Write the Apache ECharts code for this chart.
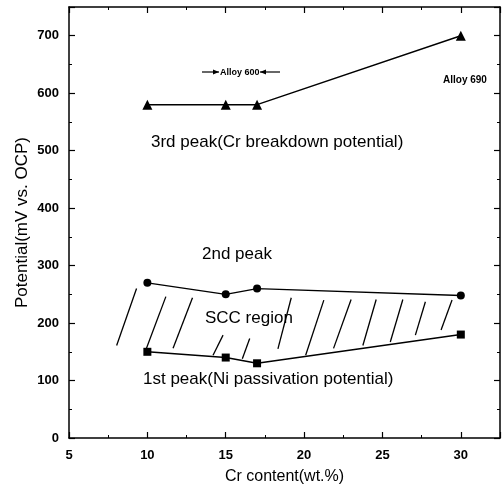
<!DOCTYPE html>
<html>
<head>
<meta charset="utf-8">
<script src="https://cdn.jsdelivr.net/npm/echarts@6/dist/echarts.min.js"></script>
<style>
  html, body { margin: 0; padding: 0; background: #fff; }
  #chart { width: 504px; height: 490px; }
</style>
</head>
<body>
<div id="chart"></div>
<script>
const crContent = [10, 15, 17, 30];
const thirdPeak = [580, 580, 580, 700];
const secondPeak = [270, 250, 260, 248];
const firstPeak = [150, 140, 130, 180];

// hatch strokes of the SCC region: [xTop, yTop, xBottom, yBottom]
const hatch = [
    [9.31, 260, 8.04, 161],
    [11.18, 246, 9.9, 153],
    [12.88, 244, 11.64, 156],
    [14.83, 179, 14.19, 144],
    [16.53, 173, 16.06, 138],
    [19.18, 244, 18.33, 155],
    [21.26, 240, 20.1, 144],
    [23.0, 241, 21.88, 156],
    [24.6, 241, 23.75, 161],
    [26.3, 241, 25.5, 167],
    [27.74, 237, 27.1, 179],
    [29.44, 240, 28.74, 188],
];

const font = 'Liberation Sans, Arial, sans-serif';
const pairs = (ys) => crContent.map((x, i) => [x, ys[i]]);

const xBase = {
    type: 'value', min: 5, max: 32.5, interval: 5,
    axisLine: { onZero: false, lineStyle: { color: '#000', width: 1.5 } },
    axisTick: { inside: true, length: 6, lineStyle: { color: '#000', width: 1.2 } },
    minorTick: { show: true, splitNumber: 2, length: 3, lineStyle: { color: '#000' } },
    splitLine: { show: false },
};
const yBase = {
    type: 'value', min: 0, max: 750, interval: 100,
    axisLine: { onZero: false, lineStyle: { color: '#000', width: 1.5 } },
    axisTick: { inside: true, length: 6, lineStyle: { color: '#000', width: 1.2 } },
    minorTick: { show: true, splitNumber: 2, length: 3, lineStyle: { color: '#000' } },
    splitLine: { show: false },
};

const lineSeries = (ys, symbol, size) => ({
    type: 'line',
    data: pairs(ys),
    symbol,
    symbolSize: size,
    itemStyle: { color: '#000' },
    lineStyle: { color: '#000', width: 1.4 },
    animation: false,
});

const note = (text, x, y, size, bold) => ({
    type: 'text', x, y,
    style: {
        text, fill: '#000', fontSize: size, fontFamily: font,
        fontWeight: bold ? 'bold' : 'normal', verticalAlign: 'middle',
    },
});

// small arrow: shaft plus head pointing in direction dir (+1 right, -1 left)
const arrow = (x1, x2, y, dir) => {
    const tip = dir > 0 ? x2 : x1;
    return [
        { type: 'line', shape: { x1, y1: y, x2, y2: y }, style: { stroke: '#000', lineWidth: 1.2 } },
        {
            type: 'polygon',
            shape: { points: [[tip, y], [tip - dir * 6, y - 2.5], [tip - dir * 6, y + 2.5]] },
            style: { fill: '#000' },
        },
    ];
};

const chart = echarts.init(document.getElementById('chart'));
chart.setOption({
    backgroundColor: '#fff',
    animation: false,
    grid: { left: 69, right: 4, top: 7, bottom: 51 },
    xAxis: [
        {
            ...xBase,
            position: 'bottom',
            name: 'Cr content(wt.%)',
            nameLocation: 'middle',
            nameGap: 31,
            nameTextStyle: { color: '#000', fontSize: 16, fontFamily: font },
            axisLabel: {
                color: '#000', fontSize: 13, fontWeight: 'bold', fontFamily: font, margin: 11,
                showMaxLabel: false,
            },
        },
        { ...xBase, position: 'top', axisLabel: { show: false } },
    ],
    yAxis: [
        {
            ...yBase,
            position: 'left',
            name: 'Potential(mV vs. OCP)',
            nameLocation: 'middle',
            nameGap: 38,
            nameMoveOverlap: false,
            nameTextStyle: { color: '#000', fontSize: 17, fontFamily: font },
            axisLabel: {
                color: '#000', fontSize: 13, fontWeight: 'bold', fontFamily: font, margin: 10,
                formatter: (v) => (v % 100 === 0 ? String(v) : ''),
            },
        },
        { ...yBase, position: 'right', axisLabel: { show: false } },
    ],
    series: [
        lineSeries(thirdPeak, 'triangle', 10),
        lineSeries(secondPeak, 'circle', 8),
        lineSeries(firstPeak, 'rect', 8),
        {
            type: 'custom',
            data: hatch,
            renderItem: (params, api) => {
                const a = api.coord([api.value(0), api.value(1)]);
                const b = api.coord([api.value(2), api.value(3)]);
                return {
                    type: 'line',
                    shape: { x1: a[0], y1: a[1], x2: b[0], y2: b[1] },
                    style: { stroke: '#000', lineWidth: 1.3 },
                };
            },
            animation: false,
        },
    ],
    graphic: [
        note('3rd peak(Cr breakdown potential)', 151, 142, 17),
        note('2nd peak', 202, 254, 17),
        note('SCC region', 205, 318, 17),
        note('1st peak(Ni passivation potential)', 143, 379, 17),
        note('Alloy 600', 220, 73, 9, true),
        ...arrow(202, 219, 72, 1),
        ...arrow(260, 280, 72, -1),
        note('Alloy 690', 443, 80, 10, true),
    ],
});
</script>
</body>
</html>
